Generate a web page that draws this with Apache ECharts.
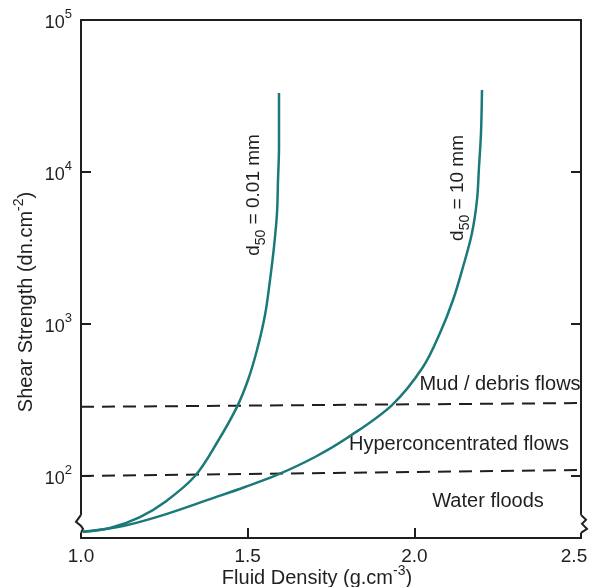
<!DOCTYPE html>
<html>
<head>
<meta charset="utf-8">
<script src="https://cdn.jsdelivr.net/npm/echarts@6/dist/echarts.min.js"></script>
<style>
  html, body { margin: 0; padding: 0; background: #fff; }
  #chart { width: 589px; height: 587px; }
</style>
</head>
<body>
<div id="chart"></div>
<script>
/* curve d50 = 0.01 mm */
const densityFine = [1.00, 1.087, 1.177, 1.252, 1.342, 1.411, 1.468, 1.501, 1.528, 1.552, 1.567, 1.579, 1.588, 1.591, 1.594, 1.594];
const strengthFine = [42.8, 45.5, 53.7, 67.5, 100, 170, 285, 428, 674, 1146, 1945, 3213, 5370, 8856, 14600, 33100];
/* curve d50 = 10 mm */
const densityCoarse = [1.00, 1.126, 1.246, 1.396, 1.492, 1.588, 1.702, 1.798, 1.933, 2.026, 2.077, 2.116, 2.146, 2.173, 2.188, 2.194, 2.200, 2.203];
const strengthCoarse = [42.8, 46.9, 55.3, 71.6, 84.7, 101.6, 133.4, 177.8, 293, 521, 873, 1439, 2371, 3971, 6549, 10790, 18060, 34590];
/* dashed boundaries between flow types */
const boundaryX = [1.0, 2.5];
const mudBoundary = [285, 302];
const hyperBoundary = [100, 109.5];
/* labels placed in data space: [density, strength, text] */
const curveNotes = [
    [1.525, 7063, '{m|d}{s|50}{m| = 0.01 mm}'],
    [2.137, 7852, '{m|d}{s|50}{m| = 10 mm}'],
];
const zoneNotes = [
    [2.257, 402, 'Mud / debris flows'],
    [2.134, 160, 'Hyperconcentrated flows'],
    [2.221, 67.5, 'Water floods'],
];
const xTicks = { min: 1.0, max: 2.5, interval: 0.5 };
const yRange = { min: 39.1, max: 100000 };

const FONT = "'Liberation Sans', Arial, sans-serif";
const INK = '#1f1f1f';
const TEAL = '#1b7a79';

const chart = echarts.init(document.getElementById('chart'), null, { renderer: 'canvas' });

function pairs(xs, ys) {
    return xs.map((x, i) => [x, ys[i]]);
}

function powerLabel(v) {
    const e = Math.round(Math.log10(v));
    if (Math.abs(Math.log10(v) - e) > 1e-6) return '';
    return '{b|10}{sup|' + e + '}';
}

// last density label sits against the frame edge, nudge it inward
function densityLabel(v) {
    const txt = v.toFixed(1);
    return v >= xTicks.max ? '{edge|' + txt + '}' : txt;
}

const axisLine = { show: true, lineStyle: { color: INK, width: 2 } };
const tickStyle = { show: true, inside: true, length: 10, lineStyle: { color: INK, width: 2 } };
const tickRich = {
    b: { fontSize: 18, lineHeight: 24, verticalAlign: 'bottom', color: INK, fontFamily: FONT },
    sup: { fontSize: 13, lineHeight: 13, verticalAlign: 'top', color: INK, fontFamily: FONT },
};
const nameRich = {
    n: { fontSize: 20, lineHeight: 24, verticalAlign: 'bottom', color: INK, fontFamily: FONT },
    sup: { fontSize: 14, lineHeight: 14, verticalAlign: 'top', color: INK, fontFamily: FONT },
};

chart.setOption({
    backgroundColor: '#fff',
    animation: false,
    grid: { left: 81, top: 20, width: 500, height: 518, containLabel: false, outerBoundsMode: 'none' },
    xAxis: [{
        type: 'value',
        min: xTicks.min, max: xTicks.max, interval: xTicks.interval,
        position: 'bottom',
        axisLine: axisLine,
        axisTick: tickStyle,
        splitLine: { show: false },
        axisLabel: {
            fontSize: 19, color: INK, fontFamily: FONT, margin: 9, formatter: densityLabel,
            rich: { edge: { fontSize: 19, color: INK, fontFamily: FONT, padding: [0, 14, 0, 0] } },
        },
        name: '{n|Fluid Density (g.cm}{sup|-3}{n|)}',
        nameLocation: 'middle',
        nameGap: 26,
        nameMoveOverlap: false,
        nameTextStyle: { rich: nameRich, padding: [0, 28, 0, 0] },
    }, {
        type: 'value',
        min: xTicks.min, max: xTicks.max,
        position: 'top',
        axisLine: axisLine,
        axisTick: { show: false },
        axisLabel: { show: false },
        splitLine: { show: false },
    }],
    yAxis: [{
        type: 'log', logBase: 10,
        min: yRange.min, max: yRange.max,
        position: 'left',
        axisLine: axisLine,
        axisTick: tickStyle,
        splitLine: { show: false },
        minorTick: { show: false },
        axisLabel: { margin: 9, formatter: powerLabel, rich: tickRich },
        name: '{n|Shear Strength (dn.cm}{sup|-2}{n|)}',
        nameLocation: 'middle',
        nameGap: 45,
        nameMoveOverlap: false,
        nameTextStyle: { rich: nameRich, padding: [0, 46, 0, 0] },
    }, {
        type: 'log', logBase: 10,
        min: yRange.min, max: yRange.max,
        position: 'right',
        axisLine: axisLine,
        axisTick: tickStyle,
        splitLine: { show: false },
        axisLabel: { show: false },
    }],
    series: [
        {
            name: 'mud boundary', type: 'line', data: pairs(boundaryX, mudBoundary),
            symbol: 'none', silent: true,
            lineStyle: { color: INK, width: 2, type: [13, 8] },
        },
        {
            name: 'hyper boundary', type: 'line', data: pairs(boundaryX, hyperBoundary),
            symbol: 'none', silent: true,
            lineStyle: { color: INK, width: 2, type: [13, 8] },
        },
        {
            name: 'd50 = 0.01 mm', type: 'line', data: pairs(densityFine, strengthFine),
            symbol: 'none', smooth: 0.35, z: 3,
            lineStyle: { color: TEAL, width: 2.5 },
        },
        {
            name: 'd50 = 10 mm', type: 'line', data: pairs(densityCoarse, strengthCoarse),
            symbol: 'none', smooth: 0.35, z: 3,
            lineStyle: { color: TEAL, width: 2.5 },
        },
        {
            name: 'curve notes', type: 'scatter', symbolSize: 0, silent: true,
            itemStyle: { opacity: 1 },
            data: curveNotes.map(n => ({ value: [n[0], n[1]], name: n[2] })),
            label: {
                show: true, position: 'inside', rotate: 90, opacity: 1,
                formatter: p => p.name,
                rich: {
                    m: { fontSize: 19, lineHeight: 24, verticalAlign: 'top', color: INK, fontFamily: FONT },
                    s: { fontSize: 14, lineHeight: 14, verticalAlign: 'bottom', color: INK, fontFamily: FONT },
                },
            },
        },
        {
            name: 'zone notes', type: 'scatter', symbolSize: 0, silent: true,
            itemStyle: { opacity: 1 },
            data: zoneNotes.map(n => ({ value: [n[0], n[1]], name: n[2] })),
            label: {
                show: true, position: 'inside', opacity: 1,
                formatter: p => p.name,
                fontSize: 20, color: INK, fontFamily: FONT,
            },
        },
    ],
});

// axis break marks near the bottom of both vertical axes
const breakAt = 47;
const leftPt = chart.convertToPixel({ gridIndex: 0 }, [xTicks.min, breakAt]);
const rightPt = chart.convertToPixel({ gridIndex: 0 }, [xTicks.max, breakAt]);
function breakMark(p, pts) {
    return [
        { type: 'rect', shape: { x: p[0] - 2, y: p[1] - 11, width: 4, height: 18 }, style: { fill: '#fff' }, z: 100 },
        { type: 'polyline', shape: { points: pts.map(d => [p[0] + d[0], p[1] + d[1]]) },
          style: { stroke: INK, lineWidth: 2, fill: null }, z: 101 },
    ];
}
chart.setOption({
    graphic: [
        ...breakMark(leftPt, [[0, -11], [-5, -4], [0, 0], [2, 3], [0, 7]]),
        ...breakMark(rightPt, [[0, -11], [5, -6], [1, -2], [6, 3], [0, 7]]),
    ],
});
</script>
</body>
</html>
